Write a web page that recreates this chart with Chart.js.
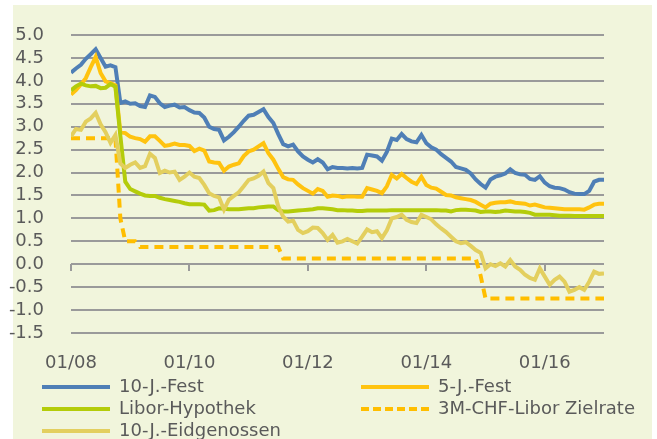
<!DOCTYPE html>
<html>
<head>
<meta charset="utf-8">
<script src="https://cdn.jsdelivr.net/npm/chart.js@4"></script>
<style>
  html, body { margin: 0; padding: 0; background: #fff; }
  #bg { position: absolute; left: 13px; top: 5px; width: 639px; height: 434px; background: #f1f5dc; }
  #grid { position: absolute; left: 0; top: 0; }
  #grid div { position: absolute; background: #9a9a9a; }
  #c { position: absolute; left: 0; top: 0; }
  .item { position: absolute; height: 22px; line-height: 22px; white-space: nowrap; font: 18px "DejaVu Sans", sans-serif; color: #5a5a5a; }
  .item i { position: absolute; left: 0; top: 9px; width: 68px; height: 0; border-top: 4px solid; }
  .item span { position: absolute; left: 77px; top: -1px; }
</style>
</head>
<body>
<div id="bg"></div>
<div id="grid"></div>
<canvas id="c" width="657" height="439"></canvas>
<script>
// monthly values, 01/08 .. 01/17
const tickLabels = ['01/08', '01/10', '01/12', '01/14', '01/16'];
const tickMonths = [0, 24, 48, 72, 96];

const tenFest = [4.18, 4.27, 4.35, 4.48, 4.58, 4.69, 4.5, 4.31, 4.34, 4.3,
  3.52, 3.55, 3.5, 3.51, 3.45, 3.43, 3.68, 3.65, 3.51, 3.43,
  3.46, 3.48, 3.42, 3.43, 3.36, 3.31, 3.3, 3.2, 3.0, 2.95,
  2.93, 2.7, 2.78, 2.88, 3.0, 3.13, 3.24, 3.26, 3.32, 3.38,
  3.21, 3.08, 2.84, 2.62, 2.57, 2.61, 2.46, 2.35, 2.28, 2.22,
  2.29, 2.22, 2.07, 2.12, 2.1, 2.1, 2.09, 2.1, 2.09, 2.1,
  2.39, 2.37, 2.35, 2.26, 2.45, 2.74, 2.71, 2.84, 2.73, 2.68,
  2.66, 2.82, 2.64, 2.55, 2.5, 2.4, 2.32, 2.24, 2.12, 2.09,
  2.06, 1.98, 1.85, 1.75, 1.67, 1.85, 1.91, 1.94, 1.98, 2.07,
  1.99, 1.96, 1.95, 1.86, 1.84, 1.92, 1.78, 1.7, 1.67, 1.66,
  1.63, 1.57, 1.54, 1.53, 1.53, 1.6, 1.8, 1.84, 1.84];

const fiveFest = [3.7, 3.8, 3.92, 4.06, 4.3, 4.52, 4.17, 3.99, 3.95, 3.9,
  2.88, 2.86, 2.78, 2.75, 2.73, 2.67, 2.79, 2.79, 2.69, 2.58,
  2.6, 2.63, 2.6, 2.6, 2.58, 2.47, 2.52, 2.48, 2.24, 2.22,
  2.21, 2.04, 2.13, 2.17, 2.2, 2.36, 2.46, 2.5, 2.57, 2.64,
  2.42, 2.28, 2.08, 1.9, 1.85, 1.84, 1.74, 1.66, 1.6, 1.54,
  1.64, 1.6, 1.47, 1.5, 1.49, 1.46, 1.48, 1.48, 1.47, 1.47,
  1.66, 1.63, 1.6, 1.55, 1.7, 1.95, 1.87, 1.97, 1.88, 1.8,
  1.75, 1.91, 1.73, 1.67, 1.65, 1.58, 1.51, 1.5, 1.46, 1.44,
  1.42, 1.4, 1.36, 1.3, 1.24, 1.32, 1.34, 1.35, 1.35, 1.37,
  1.34, 1.33, 1.32, 1.28, 1.3, 1.27, 1.24, 1.23, 1.22, 1.21,
  1.2, 1.2, 1.2, 1.2, 1.19, 1.24, 1.3, 1.32, 1.32];

const liborHyp = [3.79, 3.88, 3.94, 3.9, 3.88, 3.89, 3.84, 3.85, 3.93, 3.87,
  2.8, 1.8, 1.64, 1.59, 1.54, 1.5, 1.49, 1.49, 1.45, 1.42,
  1.4, 1.38, 1.36, 1.33, 1.31, 1.31, 1.31, 1.3, 1.17, 1.18,
  1.22, 1.21, 1.2, 1.2, 1.2, 1.21, 1.22, 1.22, 1.24, 1.25,
  1.26, 1.26, 1.18, 1.15, 1.15, 1.16, 1.17, 1.18, 1.19, 1.2,
  1.22, 1.22, 1.21, 1.2, 1.18, 1.18, 1.17, 1.17, 1.16, 1.16,
  1.17, 1.17, 1.17, 1.17, 1.17, 1.18, 1.18, 1.18, 1.18, 1.18,
  1.18, 1.18, 1.18, 1.18, 1.18, 1.17, 1.17, 1.15, 1.18, 1.19,
  1.19, 1.18, 1.17, 1.14, 1.15, 1.15, 1.14, 1.15, 1.17, 1.16,
  1.15, 1.15, 1.14, 1.12, 1.08, 1.08, 1.08, 1.08, 1.07, 1.06,
  1.06, 1.06, 1.05, 1.05, 1.05, 1.05, 1.05, 1.05, 1.05];

const liborTarget = [2.75, 2.75, 2.75, 2.75, 2.75, 2.75, 2.75, 2.75, 2.75, 2.75,
  1.0, 0.5, 0.5, 0.5, 0.375, 0.375, 0.375, 0.375, 0.375, 0.375,
  0.375, 0.375, 0.375, 0.375, 0.375, 0.375, 0.375, 0.375, 0.375, 0.375,
  0.375, 0.375, 0.375, 0.375, 0.375, 0.375, 0.375, 0.375, 0.375, 0.375,
  0.375, 0.375, 0.375, 0.125, 0.125, 0.125, 0.125, 0.125, 0.125, 0.125,
  0.125, 0.125, 0.125, 0.125, 0.125, 0.125, 0.125, 0.125, 0.125, 0.125,
  0.125, 0.125, 0.125, 0.125, 0.125, 0.125, 0.125, 0.125, 0.125, 0.125,
  0.125, 0.125, 0.125, 0.125, 0.125, 0.125, 0.125, 0.125, 0.125, 0.125,
  0.125, 0.125, 0.125, -0.25, -0.75, -0.75, -0.75, -0.75, -0.75, -0.75,
  -0.75, -0.75, -0.75, -0.75, -0.75, -0.75, -0.75, -0.75, -0.75, -0.75,
  -0.75, -0.75, -0.75, -0.75, -0.75, -0.75, -0.75, -0.75, -0.75];

const eidg = [2.79, 2.95, 2.93, 3.11, 3.18, 3.3, 3.05, 2.88, 2.65, 2.82,
  2.2, 2.1, 2.17, 2.22, 2.1, 2.14, 2.41, 2.32, 1.99, 2.04,
  2.0, 2.02, 1.84, 1.91, 2.0, 1.91, 1.88, 1.73, 1.55, 1.49,
  1.46, 1.19, 1.41, 1.49, 1.57, 1.7, 1.84, 1.87, 1.93, 2.02,
  1.77, 1.66, 1.26, 1.04, 0.93, 0.95, 0.75, 0.68, 0.72, 0.8,
  0.79, 0.68, 0.53, 0.64, 0.47, 0.5, 0.55, 0.5, 0.45, 0.6,
  0.76, 0.7, 0.72, 0.57, 0.74, 1.0, 1.03, 1.08, 0.97, 0.92,
  0.9, 1.08, 1.03, 0.98, 0.87, 0.78, 0.7, 0.6, 0.5, 0.46,
  0.48, 0.4, 0.31, 0.25, -0.09, 0.0, -0.04, 0.02, -0.05, 0.09,
  -0.05, -0.12, -0.23, -0.3, -0.34, -0.09, -0.27, -0.45, -0.34, -0.27,
  -0.38, -0.6, -0.56, -0.5, -0.56, -0.38, -0.16, -0.21, -0.2];

const seriesNames = ['10-J.-Fest', '5-J.-Fest', 'Libor-Hypothek', '3M-CHF-Libor Zielrate', '10-J.-Eidgenossen'];
const seriesData = [tenFest, fiveFest, liborHyp, liborTarget, eidg];
const seriesColors = ['#4f7fb6', '#ffc30f', '#b4cc0a', '#ffbe00', '#e3cf5e'];
const seriesDash = [[], [], [], [9, 6], []];

function pts(arr) {
  return arr.map((v, i) => ({ x: i, y: v }));
}

// draw order: back to front like the original
const order = [4, 3, 2, 1, 0];

const datasets = seriesNames.map((name, k) => ({
  label: name,
  data: pts(seriesData[k]),
  borderColor: seriesColors[k],
  backgroundColor: seriesColors[k],
  borderWidth: 4,
  borderDash: seriesDash[k],
  pointRadius: 0,
  tension: 0,
  order: order[k]
}));

const chart = new Chart(document.getElementById('c'), {
  type: 'line',
  data: { datasets: datasets },
  options: {
    responsive: false,
    animation: false,
    layout: { padding: { left: 0, top: 35, right: 53, bottom: 66 } },
    plugins: { legend: { display: false }, tooltip: { enabled: false } },
    scales: {
      x: {
        type: 'linear',
        min: 0,
        max: 108,
        grid: { display: false },
        border: { display: false },
        ticks: {
          stepSize: 24,
          padding: 12,
          color: '#5a5a5a',
          font: { family: 'DejaVu Sans', size: 18 },
          callback: (v) => tickLabels[tickMonths.indexOf(v)] || ''
        },
        afterFit: (s) => { s.height = 40; }
      },
      y: {
        min: -1.5,
        max: 5.0,
        grid: { display: false },
        border: { display: false },
        ticks: {
          stepSize: 0.5,
          maxTicksLimit: 20,
          autoSkip: false,
          padding: 19,
          color: '#5a5a5a',
          font: { family: 'DejaVu Sans', size: 18 },
          callback: (v) => v.toFixed(1)
        },
        afterFit: (s) => { s.width = 71; }
      }
    }
  }
});

// grid lines and zero-line ticks as thin divs under the transparent canvas,
// placed from the chart's own scales
const grid = document.getElementById('grid');
const xs = chart.scales.x, ys = chart.scales.y;
const gx1 = xs.getPixelForValue(xs.min), gx2 = xs.getPixelForValue(xs.max);
ys.ticks.forEach(t => {
  const py = ys.getPixelForValue(t.value);
  const d = document.createElement('div');
  d.style.left = gx1 + 'px';
  d.style.width = (gx2 - gx1) + 'px';
  d.style.top = (Math.round(py) - 1) + 'px';
  d.style.height = '2px';
  grid.appendChild(d);
});
const y0 = Math.round(ys.getPixelForValue(0));
tickMonths.forEach(m => {
  const px = xs.getPixelForValue(m);
  const d = document.createElement('div');
  d.style.left = (Math.round(px) - 1) + 'px';
  d.style.width = '2px';
  d.style.top = y0 + 'px';
  d.style.height = '7px';
  grid.appendChild(d);
});

// legend in two columns
const legendPos = [[42, 376], [361, 376], [42, 398], [361, 398], [42, 420]];
seriesNames.forEach((name, k) => {
  const d = document.createElement('div');
  d.className = 'item';
  d.style.left = legendPos[k][0] + 'px';
  d.style.top = legendPos[k][1] + 'px';
  const line = document.createElement('i');
  line.style.borderTopColor = seriesColors[k];
  if (seriesDash[k].length) line.style.borderTopStyle = 'dashed';
  const txt = document.createElement('span');
  txt.textContent = name;
  d.appendChild(line);
  d.appendChild(txt);
  document.body.appendChild(d);
});
</script>
</body>
</html>
